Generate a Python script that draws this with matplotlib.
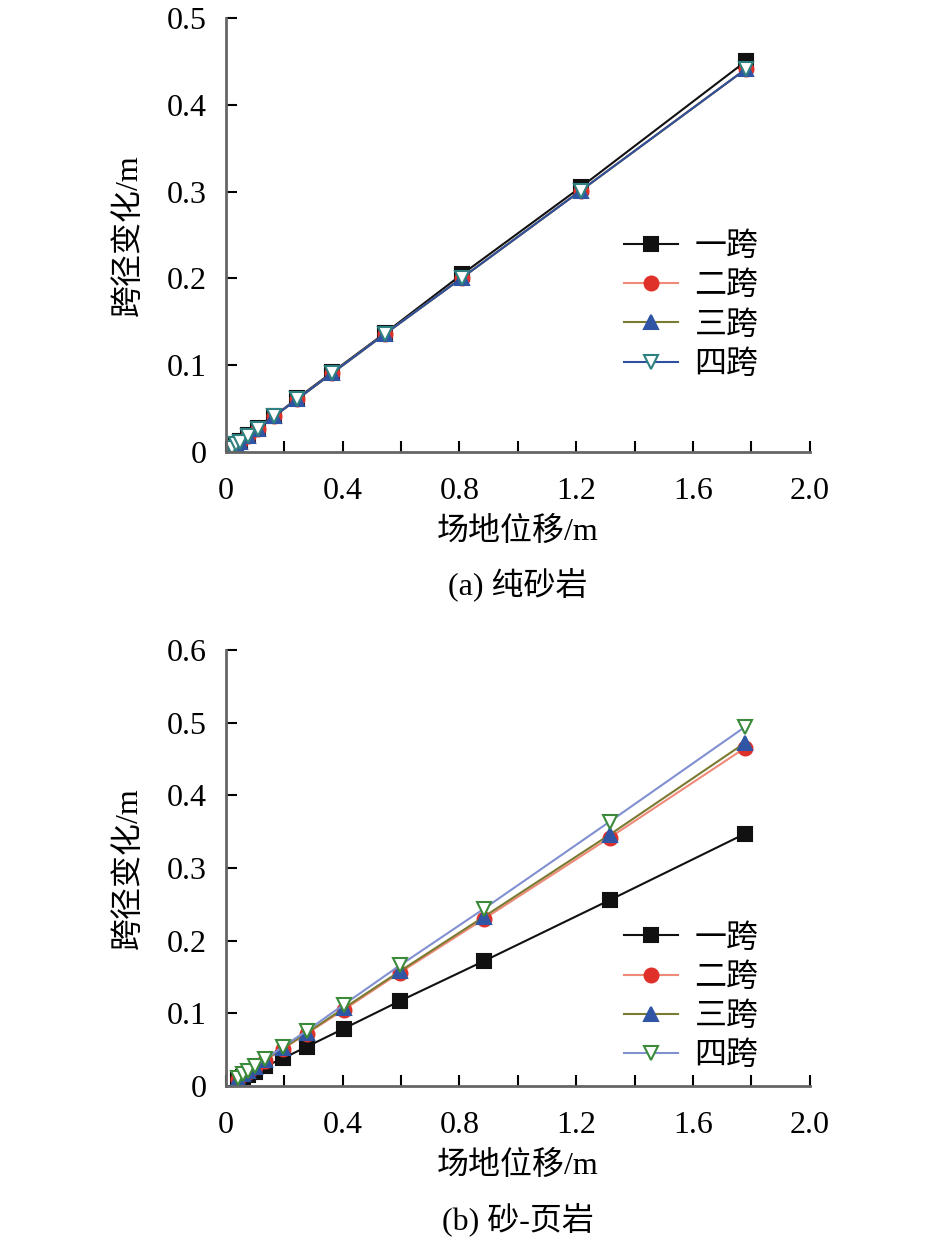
import numpy as np
import matplotlib.pyplot as plt
from matplotlib.ticker import FuncFormatter, MultipleLocator

plt.rcParams['font.family'] = ['Liberation Serif', 'Noto Sans CJK SC']
plt.rcParams['axes.unicode_minus'] = False

labels = ['一跨', '二跨', '三跨', '四跨']

# (a) 纯砂岩
xa = [0.02, 0.035, 0.05, 0.075, 0.11, 0.165, 0.245, 0.365, 0.545, 0.81, 1.215, 1.78]
ya_1 = [0.005, 0.009, 0.013, 0.019, 0.028, 0.041, 0.062, 0.092, 0.137, 0.205, 0.305, 0.450]
ya_2 = [0.005, 0.009, 0.012, 0.018, 0.027, 0.041, 0.061, 0.091, 0.136, 0.201, 0.301, 0.441]
ya_3 = [0.005, 0.009, 0.012, 0.018, 0.027, 0.041, 0.061, 0.091, 0.136, 0.201, 0.301, 0.441]
ya_4 = [0.005, 0.009, 0.012, 0.018, 0.027, 0.041, 0.061, 0.091, 0.136, 0.201, 0.301, 0.441]

# (b) 砂-页岩
xb = [0.04, 0.06, 0.075, 0.10, 0.135, 0.195, 0.277, 0.404, 0.596, 0.884, 1.315, 1.777]
yb_1 = [0.008, 0.012, 0.015, 0.019, 0.027, 0.038, 0.054, 0.079, 0.117, 0.172, 0.256, 0.347]
yb_2 = [0.010, 0.016, 0.019, 0.026, 0.035, 0.051, 0.072, 0.105, 0.156, 0.230, 0.342, 0.465]
yb_3 = [0.010, 0.016, 0.020, 0.026, 0.036, 0.052, 0.073, 0.107, 0.158, 0.233, 0.346, 0.472]
yb_4 = [0.011, 0.016, 0.020, 0.027, 0.037, 0.054, 0.076, 0.112, 0.166, 0.244, 0.364, 0.494]

styles_a = [
    dict(color='#111111', marker='s', mfc='#111111', mec='#111111'),
    dict(color='#f08a78', marker='o', mfc='#e0302a', mec='#e0302a'),
    dict(color='#7a7a30', marker='^', mfc='#2f55a4', mec='#2f55a4'),
    dict(color='#2f4f9f', marker='v', mfc='white', mec='#2f8080'),
]
styles_b = [
    dict(color='#111111', marker='s', mfc='#111111', mec='#111111'),
    dict(color='#f08a78', marker='o', mfc='#e0302a', mec='#e0302a'),
    dict(color='#7a7a30', marker='^', mfc='#2f55a4', mec='#2f55a4'),
    dict(color='#8090d0', marker='v', mfc='white', mec='#3a8a3a'),
]

fs = 23
fig = plt.figure(figsize=(9.45, 12.41), dpi=100)


def fmt(v, pos):
    if abs(v) < 1e-9:
        return '0'
    return f'{v:.1f}'


def draw(ax, x, ys, styles, ymax, xlab, cap, legy):
    for y, st, lab in zip(ys, styles, labels):
        ax.plot(x, y, lw=1.5, ms=10, mew=1.5, label=lab, **st)
    ax.set_xlim(0, 2.0)
    ax.set_ylim(0, ymax)
    ax.set_xticks(np.arange(0, 2.01, 0.4))
    ax.set_yticks(np.arange(0, ymax + 0.001, 0.1))
    ax.xaxis.set_minor_locator(MultipleLocator(0.2))
    ax.xaxis.set_major_formatter(FuncFormatter(fmt))
    ax.yaxis.set_major_formatter(FuncFormatter(fmt))
    ax.tick_params(axis='x', which='major', direction='in', length=8, width=1.5,
                   labelsize=fs, pad=18)
    ax.tick_params(axis='y', which='major', direction='in', length=8, width=1.5,
                   labelsize=fs, pad=14)
    ax.tick_params(axis='x', which='minor', direction='in', length=8, width=1.5)
    for s in ['top', 'right']:
        ax.spines[s].set_visible(False)
    for s in ['left', 'bottom']:
        ax.spines[s].set_linewidth(2.0)
        ax.spines[s].set_color('#666666')
    ax.set_ylabel('跨径变化/m', fontsize=fs, labelpad=16)
    ax.set_xlabel(xlab, fontsize=fs, labelpad=8)
    ax.text(0.5, -0.305, cap, transform=ax.transAxes, ha='center', va='center', fontsize=fs)
    ax.legend(loc='upper left', bbox_to_anchor=(0.682, legy), frameon=False, fontsize=fs,
              handlelength=1.7, handletextpad=0.5, labelspacing=0.3, borderaxespad=0,
              borderpad=0)


ax1 = fig.add_axes([0.239, 0.6358, 0.618, 0.3497])
draw(ax1, xa, [ya_1, ya_2, ya_3, ya_4], styles_a, 0.5, '场地位移/m', '(a) 纯砂岩', 0.506)

ax2 = fig.add_axes([0.239, 0.1249, 0.618, 0.3513])
draw(ax2, xb, [yb_1, yb_2, yb_3, yb_4], styles_b, 0.6, '场地位移/m', '(b) 砂-页岩', 0.372)

fig.savefig('out.png', dpi=100)
